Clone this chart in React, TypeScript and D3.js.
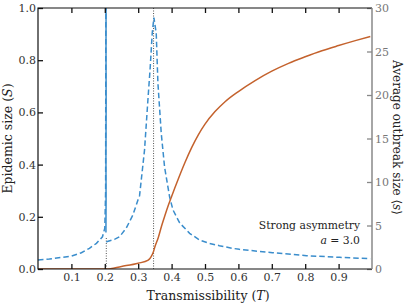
import React, { useEffect, useRef } from 'react'
import * as d3 from 'd3'

// epidemic size S (left axis)
const sizeT = [0.0, 0.2035, 0.25, 0.3, 0.33, 0.335, 0.34, 0.345, 0.35, 0.36, 0.37, 0.38, 0.39, 0.4, 0.42, 0.44, 0.46, 0.48, 0.5, 0.53, 0.56, 0.6, 0.65, 0.7, 0.75, 0.8, 0.85, 0.9, 0.95, 0.995]
const sizeS = [0.0, 0.0, 0.01, 0.022, 0.034, 0.04, 0.05, 0.064, 0.085, 0.12, 0.165, 0.205, 0.243, 0.278, 0.345, 0.408, 0.465, 0.514, 0.555, 0.603, 0.641, 0.68, 0.722, 0.758, 0.788, 0.813, 0.836, 0.856, 0.875, 0.891]

// average outbreak size <s> (right axis), dashed, below the first threshold
const outLowT = [0.0, 0.034, 0.073, 0.1, 0.13, 0.154, 0.175, 0.193, 0.2, 0.2025, 0.2032]
const outLowS = [1.03, 1.15, 1.34, 1.49, 1.87, 2.38, 2.95, 3.7, 4.7, 9, 31]

// dashed, after the first threshold
const outHighT = [0.2045, 0.21, 0.229, 0.244, 0.264, 0.284, 0.299, 0.304, 0.319, 0.329, 0.336, 0.342, 0.347, 0.354, 0.359, 0.369, 0.379, 0.394, 0.404, 0.424, 0.454, 0.484, 0.513, 0.543, 0.582, 0.603, 0.702, 0.804, 0.903, 0.995]
const outHighS = [3.1, 3.2, 3.4, 3.7, 4.68, 6.2, 7.9, 8.4, 13.7, 19.4, 23.2, 27.1, 28.9, 27.1, 21.4, 15.6, 11.7, 8.3, 6.8, 5.3, 4.1, 3.33, 2.95, 2.68, 2.38, 2.26, 1.87, 1.53, 1.34, 1.18]

// solid blue divergence at the first threshold
const jumpT = [0.2034, 0.2038, 0.2034, 0.204, 0.2036, 0.2038]
const jumpS = [4.2, 8, 13, 19, 25, 31]

// dotted markers of the thresholds (height in S units)
const thresholdT = [0.2045, 0.346]
const thresholdTop = [0.123, 1.0]

const xTicks = [0.1, 0.2, 0.3, 0.4, 0.5, 0.6, 0.7, 0.8, 0.9]
const leftTicks = [0, 0.2, 0.4, 0.6, 0.8, 1.0]
const rightTicks = [0, 5, 10, 15, 20, 25, 30]

const width = 407
const height = 305
const margin = { top: 8, right: 35, bottom: 36, left: 38 }
const font = 'DejaVu Serif'
const blue = '#3a8dcc'
const orange = '#c4622d'

const App: React.FC = () => {
  const svgRef = useRef<SVGSVGElement>(null)

  useEffect(() => {
    if (!svgRef.current) return
    const svg = d3.select(svgRef.current)
    svg.selectAll('*').remove()

    const x = d3.scaleLinear().domain([0, 1]).range([margin.left, width - margin.right])
    const yS = d3.scaleLinear().domain([0, 1]).range([height - margin.bottom, margin.top])
    const yOut = d3.scaleLinear().domain([0, 30]).range([height - margin.bottom, margin.top])

    svg
      .append('defs')
      .append('clipPath')
      .attr('id', 'plot-area')
      .append('rect')
      .attr('x', margin.left)
      .attr('y', margin.top)
      .attr('width', width - margin.left - margin.right)
      .attr('height', height - margin.top - margin.bottom)

    const plot = svg.append('g').attr('clip-path', 'url(#plot-area)')

    // threshold markers
    plot
      .selectAll('.threshold')
      .data(thresholdT)
      .enter()
      .append('line')
      .attr('class', 'threshold')
      .attr('x1', (d) => x(d))
      .attr('x2', (d) => x(d))
      .attr('y1', yS(0))
      .attr('y2', (d, i) => yS(thresholdTop[i]))
      .attr('stroke', '#555')
      .attr('stroke-width', 1)
      .attr('stroke-dasharray', '1,1.5')

    const pairs = (ts: number[], vs: number[]) => ts.map((t, i) => [t, vs[i]] as [number, number])

    const outLine = d3
      .line<[number, number]>()
      .x((d) => x(d[0]))
      .y((d) => yOut(d[1]))

    const sizeLine = d3
      .line<[number, number]>()
      .x((d) => x(d[0]))
      .y((d) => yS(d[1]))
      .curve(d3.curveMonotoneX)

    // dashed outbreak size
    ;[pairs(outLowT, outLowS), pairs(outHighT, outHighS)].forEach((p) => {
      plot
        .append('path')
        .attr('d', outLine(p))
        .attr('fill', 'none')
        .attr('stroke', blue)
        .attr('stroke-width', 1.5)
        .attr('stroke-dasharray', '5.5,3')
    })

    // solid blue
    plot
      .append('path')
      .attr('d', outLine(pairs(jumpT, jumpS)))
      .attr('fill', 'none')
      .attr('stroke', blue)
      .attr('stroke-width', 1.5)

    // epidemic size
    plot
      .append('path')
      .attr('d', sizeLine(pairs(sizeT, sizeS)))
      .attr('fill', 'none')
      .attr('stroke', orange)
      .attr('stroke-width', 1.5)

    // axes
    const bottom = svg
      .append('g')
      .attr('transform', `translate(0, ${height - margin.bottom})`)
      .call(d3.axisBottom(x).tickValues(xTicks).tickSize(-5).tickSizeOuter(0).tickPadding(4).tickFormat(d3.format('.1f')))
    const top = svg
      .append('g')
      .attr('transform', `translate(0, ${margin.top})`)
      .call(d3.axisTop(x).tickValues(xTicks).tickSize(-5).tickSizeOuter(0).tickFormat(() => ''))
    const left = svg
      .append('g')
      .attr('transform', `translate(${margin.left}, 0)`)
      .call(d3.axisLeft(yS).tickValues(leftTicks).tickSize(-5).tickSizeOuter(0).tickPadding(2).tickFormat(d3.format('.1f')))
    const right = svg
      .append('g')
      .attr('transform', `translate(${width - margin.right}, 0)`)
      .call(d3.axisRight(yOut).tickValues(rightTicks).tickSize(-5).tickSizeOuter(0).tickPadding(3))

    ;[bottom, top, left, right].forEach((g) => {
      g.select('.domain').remove()
      g.attr('font-family', font).attr('font-size', 11)
      g.selectAll('text').attr('fill', '#333')
      g.selectAll('.tick line').attr('stroke', '#111').attr('stroke-width', 1.3)
    })
    right.selectAll('text').attr('fill', '#777')
    right.selectAll('.tick line').attr('stroke', '#888')

    // spines
    const x0 = margin.left
    const x1 = width - margin.right
    const y0 = height - margin.bottom
    const y1 = margin.top
    svg.append('path').attr('d', `M${x1},${y1}H${x0}V${y0}H${x1}`).attr('fill', 'none').attr('stroke', '#111').attr('stroke-width', 1.2)
    svg.append('line').attr('x1', x1).attr('x2', x1).attr('y1', y1).attr('y2', y0).attr('stroke', '#888').attr('stroke-width', 1.5)

    const labels = svg.append('g').attr('font-family', font).attr('fill', '#222')

    // axis labels
    labels
      .append('text')
      .attr('x', (x0 + x1) / 2 + 3)
      .attr('y', 300)
      .attr('text-anchor', 'middle')
      .attr('font-size', 12.5)
      .html('Transmissibility (<tspan font-style="italic">T</tspan>)')

    labels
      .append('text')
      .attr('transform', `translate(12, ${(y0 + y1) / 2}) rotate(-90)`)
      .attr('text-anchor', 'middle')
      .attr('font-size', 12.5)
      .html('Epidemic size (<tspan font-style="italic">S</tspan>)')

    labels
      .append('text')
      .attr('transform', `translate(393, ${(y0 + y1) / 2 - 1}) rotate(90)`)
      .attr('text-anchor', 'middle')
      .attr('font-size', 12)
      .html('Average outbreak size ⟨<tspan font-style="italic">s</tspan>⟩')

    // annotation
    labels
      .append('text')
      .attr('x', 360)
      .attr('y', 229)
      .attr('text-anchor', 'end')
      .attr('font-size', 10.8)
      .text('Strong asymmetry')
    labels
      .append('text')
      .attr('x', 360)
      .attr('y', 244)
      .attr('text-anchor', 'end')
      .attr('font-size', 10.8)
      .html('<tspan font-style="italic">a</tspan> = 3.0')
  }, [])

  return (
    <div style={{ position: 'fixed', left: 0, top: 0 }}>
      <svg ref={svgRef} width={width} height={height} style={{ display: 'block', background: '#fff' }}></svg>
    </div>
  )
}

export default App
